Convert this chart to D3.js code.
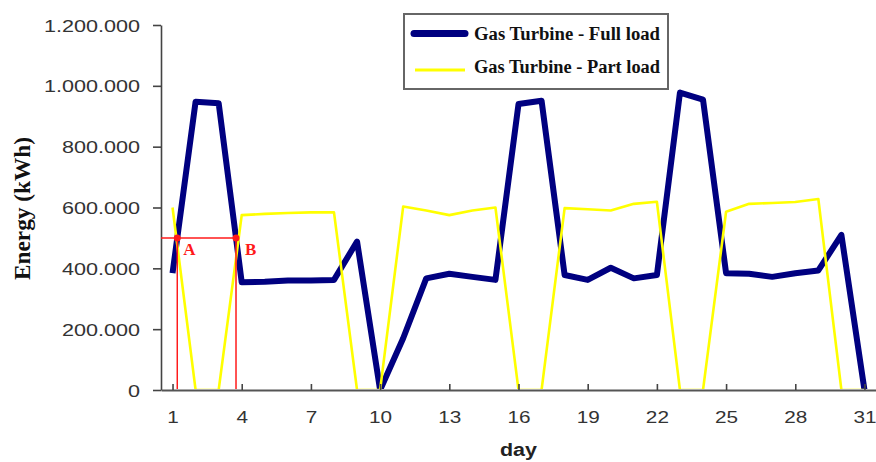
<!DOCTYPE html>
<html>
<head>
<meta charset="utf-8">
<script src="https://cdn.jsdelivr.net/npm/d3@7"></script>
<style>
  html, body { margin: 0; padding: 0; background: #ffffff; }
  svg { display: block; }
</style>
</head>
<body>
<svg id="chart" width="876" height="462"></svg>
<script>
// ---- data ----
const days = [1,2,3,4,5,6,7,8,9,10,11,12,13,14,15,16,17,18,19,20,21,22,23,24,25,26,27,28,29,30,31];
const fullLoad = [384000, 948000, 943000, 354000, 356000, 360000, 360000, 362000, 488000, 0,
                  170000, 367000, 382000, 372000, 362000, 940000, 951000, 378000, 362000, 402000,
                  367000, 378000, 978000, 955000, 384000, 382000, 372000, 384000, 393000, 510000, 0];
const partLoad = [600000, 0, 0, 575000, 579000, 582000, 584000, 584000, 0, 0,
                  603000, 590000, 575000, 590000, 600000, 0, 0, 598000, 594000, 590000,
                  612000, 619000, 0, 0, 586000, 612000, 615000, 618000, 628000, 0, 0];
const xTickDays = [1,4,7,10,13,16,19,22,25,28,31];
const yTicks = [0, 200000, 400000, 600000, 800000, 1000000, 1200000];
const seriesNames = ["Gas Turbine - Full load", "Gas Turbine - Part load"];
const markerLevel = 500000;
const markerLabels = ["A", "B"];

// ---- layout ----
const svg = d3.select("#chart");
const x = d3.scaleLinear().domain([0.5, 31.5]).range([161, 876]);
const y = d3.scaleLinear().domain([0, 1200000]).range([390, 25]);
const sans = "'Liberation Sans', Arial, sans-serif";
const serif = "'Liberation Serif', 'Times New Roman', serif";

function stretch(sel, k) {
  sel.each(function () {
    const w = this.getComputedTextLength();
    d3.select(this).attr("textLength", w * k).attr("lengthAdjust", "spacingAndGlyphs");
  });
}
function fitWidth(sel, target) {
  sel.attr("textLength", target).attr("lengthAdjust", "spacingAndGlyphs");
}

const loc = d3.formatLocale({decimal: ",", thousands: ".", grouping: [3], currency: ["", ""]});
const fmt = loc.format(",d");

// clip for plot area (lines do not draw below the x axis)
svg.append("defs").append("clipPath").attr("id", "plotclip")
  .append("rect").attr("x", 161).attr("y", 0).attr("width", 715).attr("height", 389);

// Lines
const line = d3.line().x((d, i) => x(days[i])).y(d => y(d));
const plot = svg.append("g").attr("clip-path", "url(#plotclip)");
plot.append("path").datum(fullLoad)
  .attr("d", line).attr("fill", "none").attr("stroke", "#000080")
  .attr("stroke-width", 6).attr("stroke-linejoin", "round");
plot.append("path").datum(partLoad)
  .attr("d", line).attr("fill", "none").attr("stroke", "#ffff00")
  .attr("stroke-width", 2.6).attr("stroke-linejoin", "round");

// Y axis
const yAxis = svg.append("g").attr("transform", "translate(161,0)")
  .call(d3.axisLeft(y).tickValues(yTicks).tickFormat(fmt).tickSizeInner(8).tickSizeOuter(0).tickPadding(13));
yAxis.select(".domain").attr("stroke", "#444").attr("stroke-width", 1.6);
yAxis.selectAll(".tick line").attr("stroke", "#444").attr("stroke-width", 1.6);
yAxis.selectAll(".tick text").attr("font-family", sans).attr("font-size", 17).attr("fill", "#333").attr("dy", "0.36em");
stretch(yAxis.selectAll(".tick text"), 1.27);

// X axis
const xAxis = svg.append("g").attr("transform", "translate(0,390)")
  .call(d3.axisBottom(x).tickValues(xTickDays).tickFormat(d3.format("d")).tickSizeInner(-6).tickSizeOuter(0).tickPadding(21));
xAxis.select(".domain").attr("stroke", "#555").attr("stroke-width", 2);
xAxis.selectAll(".tick line").attr("stroke", "#444").attr("stroke-width", 1.6);
xAxis.selectAll(".tick text").attr("font-family", sans).attr("font-size", 17).attr("fill", "#333");
stretch(xAxis.selectAll(".tick text"), 1.22);

// Axis titles
svg.append("text")
  .attr("transform", "translate(30,208.5) scale(1.25,1) rotate(-90)")
  .attr("text-anchor", "middle")
  .attr("font-family", serif).attr("font-weight", "bold").attr("font-size", 19).attr("fill", "#111")
  .text("Energy (kWh)")
  .call(fitWidth, 143);

svg.append("text")
  .attr("x", 518.5).attr("y", 456)
  .attr("text-anchor", "middle")
  .attr("font-family", sans).attr("font-weight", "bold").attr("font-size", 18).attr("fill", "#222")
  .text("day")
  .call(fitWidth, 37);

// Crossing markers (A, B): where full load crosses the marker level
const crossings = [];
for (let i = 0; i < fullLoad.length - 1 && crossings.length < 2; i++) {
  const a = fullLoad[i], b = fullLoad[i + 1];
  if ((a - markerLevel) * (b - markerLevel) < 0) {
    const t = (markerLevel - a) / (b - a);
    crossings.push(days[i] + t * (days[i + 1] - days[i]));
  }
}
const red = "#ff1a1a";
const gm = svg.append("g");
gm.append("line")
  .attr("x1", x(0.5)).attr("x2", x(crossings[1]))
  .attr("y1", y(markerLevel)).attr("y2", y(markerLevel))
  .attr("stroke", red).attr("stroke-width", 1.5);
crossings.forEach((c, i) => {
  gm.append("line")
    .attr("x1", x(c)).attr("x2", x(c))
    .attr("y1", y(markerLevel)).attr("y2", y(0) - 1)
    .attr("stroke", red).attr("stroke-width", 1.5);
  gm.append("circle").attr("cx", x(c)).attr("cy", y(markerLevel)).attr("r", 3.5).attr("fill", red);
  gm.append("text")
    .attr("x", x(c) + (i === 0 ? 6 : 9)).attr("y", 255)
    .attr("font-family", serif).attr("font-weight", "bold").attr("font-size", 17).attr("fill", red)
    .text(markerLabels[i]);
});

// Legend
const lg = svg.append("g");
lg.append("rect").attr("x", 404).attr("y", 14).attr("width", 264).attr("height", 75)
  .attr("fill", "#fff").attr("stroke", "#666").attr("stroke-width", 2);
lg.append("line").attr("x1", 414).attr("x2", 465).attr("y1", 33.5).attr("y2", 33.5)
  .attr("stroke", "#000080").attr("stroke-width", 7).attr("stroke-linecap", "round");
lg.append("line").attr("x1", 415).attr("x2", 465).attr("y1", 70).attr("y2", 70)
  .attr("stroke", "#ffff00").attr("stroke-width", 3);
[40, 73].forEach((yy, i) => {
  lg.append("text").attr("x", 474).attr("y", yy)
    .attr("font-family", serif).attr("font-weight", "bold").attr("font-size", 18).attr("fill", "#111")
    .text(seriesNames[i])
    .call(fitWidth, 186);
});
</script>
</body>
</html>
